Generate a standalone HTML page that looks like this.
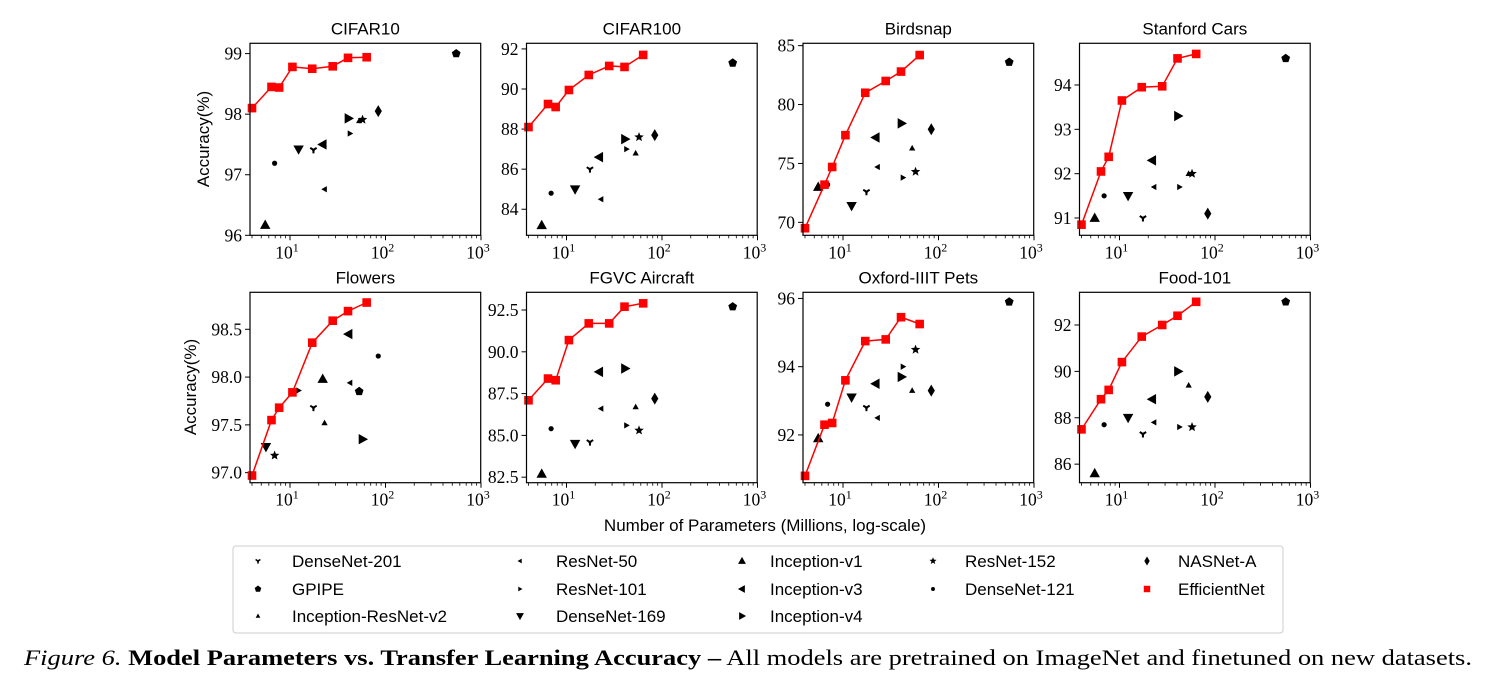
<!DOCTYPE html>
<html><head><meta charset="utf-8"><style>
html,body{margin:0;padding:0;background:#fff;}
svg{display:block;}
</style></head><body>
<svg id="s" width="1494" height="699" xmlns="http://www.w3.org/2000/svg"></svg>
<script>
const S=document.getElementById('s');
let h='';
const EX=[4.0,6.4,7.7,10.6,17.1,28,40.5,63.5];
const X={v1:5.5,d121:6.9,d169:12.3,d201:17.6,i3:22,r50:23,i4:41,r101:42.5,irv2:53,r152:57.5,nas:84,gp:550};
const panels=[
 {t:'CIFAR10',row:0,col:0,y0:96,y1:99.17,ticks:[96,97,98,99],fmt:0,
  en:[98.1,98.45,98.44,98.78,98.75,98.79,98.93,98.94],
  pts:[['U',X.v1,96.17],['dot',X.d121,97.19],['v',X.d169,97.42],['tri1',X.d201,97.41],['L',X.i3,97.5],['sml',X.r50,96.76],['R',X.i4,97.93],['smr',X.r101,97.68],['smu',X.irv2,97.89],['star',X.r152,97.91],['diam',X.nas,98.05],['pent',X.gp,99.0]]},
 {t:'CIFAR100',row:0,col:1,y0:82.70,y1:92.28,ticks:[84,86,88,90,92],fmt:0,
  en:[88.1,89.25,89.1,89.95,90.7,91.15,91.1,91.7],
  pts:[['U',X.v1,83.2],['dot',X.d121,84.8],['v',X.d169,85.0],['tri1',X.d201,86.0],['L',X.i3,86.6],['sml',X.r50,84.5],['R',X.i4,87.5],['smr',X.r101,87.0],['smu',X.irv2,86.8],['star',X.r152,87.6],['diam',X.nas,87.7],['pent',X.gp,91.3]]},
 {t:'Birdsnap',row:0,col:2,y0:68.9,y1:85.2,ticks:[70,75,80,85],fmt:0,
  en:[69.5,73.2,74.7,77.4,81.0,82.0,82.8,84.2],
  pts:[['U',X.v1,73.0],['dot',X.d121,73.2],['v',X.d169,71.4],['tri1',X.d201,72.6],['L',X.i3,77.2],['sml',X.r50,74.7],['R',X.i4,78.4],['smr',X.r101,73.8],['smu',X.irv2,76.3],['star',X.r152,74.3],['diam',X.nas,77.9],['pent',X.gp,83.6]]},
 {t:'Stanford Cars',row:0,col:3,y0:90.61,y1:94.94,ticks:[91,92,93,94],fmt:0,
  en:[90.85,92.05,92.38,93.65,93.95,93.97,94.6,94.7],
  pts:[['U',X.v1,91.0],['dot',X.d121,91.5],['v',X.d169,91.5],['tri1',X.d201,91.0],['L',X.i3,92.3],['sml',X.r50,91.7],['R',X.i4,93.3],['smr',X.r101,91.7],['smu',X.irv2,92.0],['star',X.r152,92.0],['diam',X.nas,91.1],['pent',X.gp,94.6]]},
 {t:'Flowers',row:1,col:0,y0:96.895,y1:98.887,ticks:[97.0,97.5,98.0,98.5],fmt:1,
  en:[96.97,97.55,97.68,97.84,98.36,98.59,98.69,98.78],
  pts:[['v',5.6,97.27],['star',X.d121,97.18],['smr',X.d169,97.86],['tri1',X.d201,97.68],['U',X.i3,97.98],['smu',X.r50,97.52],['L',X.i4,98.45],['sml',X.r101,97.94],['pent',X.irv2,97.85],['R',X.r152,97.35],['dot',X.nas,98.22]]},
 {t:'FGVC Aircraft',row:1,col:1,y0:82.17,y1:93.56,ticks:[82.5,85.0,87.5,90.0,92.5],fmt:1,
  en:[87.1,88.4,88.3,90.7,91.7,91.7,92.7,92.9],
  pts:[['U',X.v1,82.7],['dot',X.d121,85.4],['v',X.d169,84.5],['tri1',X.d201,84.6],['L',X.i3,88.8],['sml',X.r50,86.6],['R',X.i4,89.0],['smr',X.r101,85.6],['smu',X.irv2,86.7],['star',X.r152,85.3],['diam',X.nas,87.2],['pent',X.gp,92.7]]},
 {t:'Oxford-IIIT Pets',row:1,col:2,y0:90.60,y1:96.18,ticks:[92,94,96],fmt:0,
  en:[90.8,92.3,92.35,93.6,94.75,94.8,95.45,95.25],
  pts:[['U',X.v1,91.9],['dot',X.d121,92.9],['v',X.d169,93.1],['tri1',X.d201,92.8],['L',X.i3,93.5],['sml',X.r50,92.5],['R',X.i4,93.7],['smr',X.r101,94.0],['smu',X.irv2,93.3],['star',X.r152,94.5],['diam',X.nas,93.3],['pent',X.gp,95.9]]},
 {t:'Food-101',row:1,col:3,y0:85.2,y1:93.41,ticks:[86,88,90,92],fmt:0,
  en:[87.5,88.8,89.2,90.4,91.5,92.0,92.4,93.0],
  pts:[['U',X.v1,85.6],['dot',X.d121,87.7],['v',X.d169,88.0],['tri1',X.d201,87.3],['L',X.i3,88.8],['sml',X.r50,87.8],['R',X.i4,90.0],['smr',X.r101,87.6],['smu',X.irv2,89.4],['star',X.r152,87.6],['diam',X.nas,88.9],['pent',X.gp,93.0]]},
];
function tri(cx,cy,r,dir){let p;
 if(dir=='u')p=[[cx,cy-r],[cx-r*0.95,cy+r*0.7],[cx+r*0.95,cy+r*0.7]];
 if(dir=='d')p=[[cx,cy+r],[cx-r*0.95,cy-r*0.7],[cx+r*0.95,cy-r*0.7]];
 if(dir=='l')p=[[cx-r,cy],[cx+r*0.7,cy-r*0.95],[cx+r*0.7,cy+r*0.95]];
 if(dir=='r')p=[[cx+r,cy],[cx-r*0.7,cy-r*0.95],[cx-r*0.7,cy+r*0.95]];
 return `<polygon points="${p.map(a=>a.join(',')).join(' ')}" fill="#000"/>`;}
function mk(m,x,y){
 switch(m){
 case 'U':return tri(x,y,5.5,'u');
 case 'v':return tri(x,y,5.5,'d');
 case 'L':return tri(x,y,5.5,'l');
 case 'R':return tri(x,y,5.5,'r');
 case 'smu':return tri(x,y,3.3,'u');
 case 'sml':return tri(x,y,3.3,'l');
 case 'smr':return tri(x,y,3.3,'r');
 case 'tri1':return `<path d="M${x} ${y}L${x} ${y+3.5}M${x} ${y}L${x-3.2} ${y-2}M${x} ${y}L${x+3.2} ${y-2}" stroke="#000" stroke-width="2"/>`+tri(x,y+0.5,2.5,'d');
 case 'dot':return `<circle cx="${x}" cy="${y}" r="2.6" fill="#000"/>`;
 case 'pent':{let p=[];for(let i=0;i<5;i++){let a=-Math.PI/2+i*2*Math.PI/5;p.push((x+4.6*Math.cos(a)).toFixed(1)+','+(y+4.6*Math.sin(a)).toFixed(1));}return `<polygon points="${p.join(' ')}" fill="#000"/>`;}
 case 'star':{let p=[];for(let i=0;i<10;i++){let a=-Math.PI/2+i*Math.PI/5,r=i%2?2.2:5;p.push((x+r*Math.cos(a)).toFixed(1)+','+(y+r*Math.sin(a)).toFixed(1));}return `<polygon points="${p.join(' ')}" fill="#000"/>`;}
 case 'diam':return `<polygon points="${x},${y-6} ${x+3.6},${y} ${x},${y+6} ${x-3.6},${y}" fill="#000"/>`;
 case 'sq':return `<rect x="${x-4.3}" y="${y-4.3}" width="8.6" height="8.6" fill="#f00"/>`;
 }}
const serif='font-family="Liberation Serif, serif"', sans='font-family="Liberation Sans, sans-serif"';
panels.forEach(P=>{
 const L=250+P.col*276.5, R=L+230.7;
 const T=P.row?292.3:43.3, B=P.row?482.7:235.3;
 const xp=v=>290+P.col*276.5+(Math.log10(v)-1)*95.5;
 const yp=v=>B-(v-P.y0)/(P.y1-P.y0)*(B-T);
 h+=`<text x="${(L+R)/2}" y="${T-9}" ${sans} font-size="17" text-anchor="middle">${P.t}</text>`;
 P.ticks.forEach(t=>{const y=yp(t);h+=`<line x1="${L-5}" y1="${y}" x2="${L}" y2="${y}" stroke="#000" stroke-width="1"/>`;
  h+=`<text x="${L-8}" y="${y+6}" ${serif} font-size="17.5" text-anchor="end">${P.fmt?t.toFixed(1):t}</text>`;});
 [10,100,1000].forEach(v=>{const x=xp(v);h+=`<line x1="${x}" y1="${B}" x2="${x}" y2="${B+5}" stroke="#000"/>`;
  const e=Math.log10(v);h+=`<text x="${x-3}" y="${B+23}" ${serif} font-size="17.5" text-anchor="middle">10<tspan font-size="12" dy="-7">${e}</tspan></text>`;});
 [4,5,6,7,8,9,20,30,40,50,60,70,80,90,200,300,400,500,600,700,800,900].forEach(v=>{const x=xp(v);if(x>=L-0.5)h+=`<line x1="${x}" y1="${B}" x2="${x}" y2="${B+3}" stroke="#000" stroke-width="0.8"/>`;});
 P.pts.forEach(p=>h+=mk(p[0],xp(p[1]),yp(p[2])));
 h+=`<polyline points="${EX.map((v,i)=>xp(v).toFixed(1)+','+yp(P.en[i]).toFixed(1)).join(' ')}" fill="none" stroke="#f00" stroke-width="1.5"/>`;
 EX.forEach((v,i)=>h+=mk('sq',xp(v),yp(P.en[i])));
 h+=`<rect x="${L}" y="${T}" width="${R-L}" height="${B-T}" fill="none" stroke="#000" stroke-width="1.2"/>`;
});
h+=`<text transform="translate(209,139) rotate(-90)" ${sans} font-size="17" text-anchor="middle">Accuracy(%)</text>`;
h+=`<text transform="translate(196,387) rotate(-90)" ${sans} font-size="17" text-anchor="middle">Accuracy(%)</text>`;
h+=`<text x="765" y="531" ${sans} font-size="17" text-anchor="middle">Number of Parameters (Millions, log-scale)</text>`;
h+=`<rect x="233" y="546" width="1050" height="87" rx="3" fill="#fff" stroke="#ccc" stroke-width="1"/>`;
const leg=[[258,292,[['tri1','DenseNet-201'],['pent','GPIPE'],['smu','Inception-ResNet-v2']]],
 [520,556,[['sml','ResNet-50'],['smr','ResNet-101'],['v','DenseNet-169']]],
 [742,770,[['U','Inception-v1'],['L','Inception-v3'],['R','Inception-v4']]],
 [933,965,[['star','ResNet-152'],['dot','DenseNet-121']]],
 [1147,1178,[['diam','NASNet-A'],['sq','EfficientNet']]]];
const ry=[561,589,616];
leg.forEach(c=>c[2].forEach((it,i)=>{let m=it[0];
 h+=`<g transform="translate(${c[0]},${ry[i]}) scale(0.75) translate(${-c[0]},${-ry[i]})">${mk(m,c[0],ry[i])}</g>`;
 h+=`<text x="${c[1]}" y="${ry[i]+6}" ${sans} font-size="17">${it[1]}</text>`;}));
h+=`<text x="24" y="665" ${serif} font-size="22" textLength="1448" lengthAdjust="spacingAndGlyphs"><tspan font-style="italic">Figure 6.</tspan> <tspan font-weight="bold">Model Parameters vs. Transfer Learning Accuracy –</tspan>  All models are pretrained on ImageNet and finetuned on new datasets.</text>`;
S.innerHTML=h;
</script>
</body></html>
